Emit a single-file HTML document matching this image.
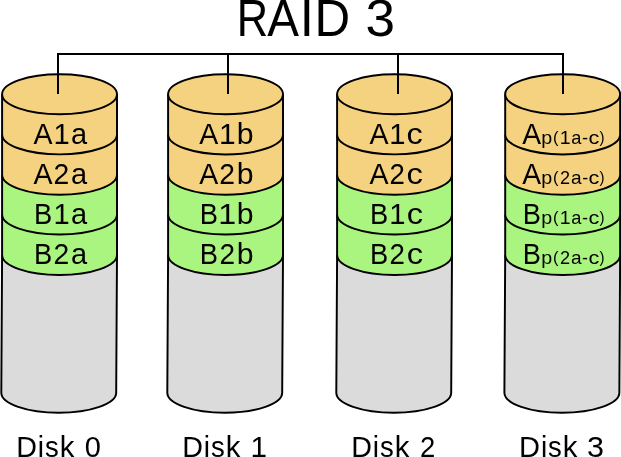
<!DOCTYPE html>
<html><head><meta charset="utf-8"><title>RAID 3</title>
<style>
html,body{margin:0;padding:0;background:#fff;}
body{width:621px;height:457px;overflow:hidden;}
svg{display:block;will-change:transform;}
text{font-family:"Liberation Sans",sans-serif;fill:#000;}
</style></head><body>
<svg width="621" height="457" viewBox="0 0 621 457">
<rect width="621" height="457" fill="#fff"/>
<g><text transform="matrix(0.8520 0 0 1.0000 236.65 35.60)" font-size="51.0">R</text><text transform="matrix(0.9327 0 0 1.0000 267.13 35.60)" font-size="51.0">A</text><text transform="matrix(0.9998 0 0 1.0000 299.66 35.60)" font-size="51.0">I</text><text transform="matrix(0.9667 0 0 1.0000 314.57 35.60)" font-size="51.0">D</text><text transform="matrix(1.0406 0 0 1.0000 365.58 35.60)" font-size="51.0">3</text></g>
<rect x="57" y="53" width="507" height="2" fill="#000"/>
<g><path d="M2.1,255.00 L1.30,392.75 A57.45,20.0 0 0 0 116.20,392.75 L117.0,255.00" fill="#dbdbdb" stroke="#000" stroke-width="1.95" stroke-linejoin="round"/><path d="M2.1,214.50 V255.00 A57.45,20.0 0 0 0 117.0,255.00 V214.50" fill="#aaf57f" stroke="#000" stroke-width="1.95"/><path d="M2.1,174.80 V214.50 A57.45,20.0 0 0 0 117.0,214.50 V174.80" fill="#aaf57f" stroke="#000" stroke-width="1.95"/><path d="M2.1,134.40 V174.80 A57.45,20.0 0 0 0 117.0,174.80 V134.40" fill="#f5d27f" stroke="#000" stroke-width="1.95"/><path d="M2.1,94.20 V134.40 A57.45,20.0 0 0 0 117.0,134.40 V94.20" fill="#f5d27f" stroke="#000" stroke-width="1.95"/><ellipse cx="59.55" cy="94.2" rx="57.45" ry="20.0" fill="#f5d27f" stroke="#000" stroke-width="1.95"/></g>
<g><path d="M168.1,255.00 L167.30,392.75 A57.45,20.0 0 0 0 282.20,392.75 L283.0,255.00" fill="#dbdbdb" stroke="#000" stroke-width="1.95" stroke-linejoin="round"/><path d="M168.1,214.50 V255.00 A57.45,20.0 0 0 0 283.0,255.00 V214.50" fill="#aaf57f" stroke="#000" stroke-width="1.95"/><path d="M168.1,174.80 V214.50 A57.45,20.0 0 0 0 283.0,214.50 V174.80" fill="#aaf57f" stroke="#000" stroke-width="1.95"/><path d="M168.1,134.40 V174.80 A57.45,20.0 0 0 0 283.0,174.80 V134.40" fill="#f5d27f" stroke="#000" stroke-width="1.95"/><path d="M168.1,94.20 V134.40 A57.45,20.0 0 0 0 283.0,134.40 V94.20" fill="#f5d27f" stroke="#000" stroke-width="1.95"/><ellipse cx="225.55" cy="94.2" rx="57.45" ry="20.0" fill="#f5d27f" stroke="#000" stroke-width="1.95"/></g>
<g><path d="M337.1,255.00 L336.30,392.75 A57.45,20.0 0 0 0 451.20,392.75 L452.0,255.00" fill="#dbdbdb" stroke="#000" stroke-width="1.95" stroke-linejoin="round"/><path d="M337.1,214.50 V255.00 A57.45,20.0 0 0 0 452.0,255.00 V214.50" fill="#aaf57f" stroke="#000" stroke-width="1.95"/><path d="M337.1,174.80 V214.50 A57.45,20.0 0 0 0 452.0,214.50 V174.80" fill="#aaf57f" stroke="#000" stroke-width="1.95"/><path d="M337.1,134.40 V174.80 A57.45,20.0 0 0 0 452.0,174.80 V134.40" fill="#f5d27f" stroke="#000" stroke-width="1.95"/><path d="M337.1,94.20 V134.40 A57.45,20.0 0 0 0 452.0,134.40 V94.20" fill="#f5d27f" stroke="#000" stroke-width="1.95"/><ellipse cx="394.55" cy="94.2" rx="57.45" ry="20.0" fill="#f5d27f" stroke="#000" stroke-width="1.95"/></g>
<g><path d="M505.2,255.00 L504.40,392.75 A57.47,20.0 0 0 0 619.35,392.75 L620.15,255.00" fill="#dbdbdb" stroke="#000" stroke-width="1.95" stroke-linejoin="round"/><path d="M505.2,214.50 V255.00 A57.47,20.0 0 0 0 620.15,255.00 V214.50" fill="#aaf57f" stroke="#000" stroke-width="1.95"/><path d="M505.2,174.80 V214.50 A57.47,20.0 0 0 0 620.15,214.50 V174.80" fill="#aaf57f" stroke="#000" stroke-width="1.95"/><path d="M505.2,134.40 V174.80 A57.47,20.0 0 0 0 620.15,174.80 V134.40" fill="#f5d27f" stroke="#000" stroke-width="1.95"/><path d="M505.2,94.20 V134.40 A57.47,20.0 0 0 0 620.15,134.40 V94.20" fill="#f5d27f" stroke="#000" stroke-width="1.95"/><ellipse cx="562.67" cy="94.2" rx="57.47" ry="20.0" fill="#f5d27f" stroke="#000" stroke-width="1.95"/></g>
<rect x="57" y="53" width="2" height="41" fill="#000"/>
<rect x="227" y="53" width="2" height="41" fill="#000"/>
<rect x="397" y="53" width="2" height="41" fill="#000"/>
<rect x="562" y="53" width="2" height="41" fill="#000"/>
<g><text transform="matrix(0.9717 0 0 1.0000 33.62 143.80)" font-size="29.325">A</text><text transform="matrix(0.9958 0 0 1.0000 53.38 143.80)" font-size="29.325">1</text><text transform="matrix(0.9897 0 0 0.9892 71.01 143.80)" font-size="29.325">a</text><text transform="matrix(0.9735 0 0 1.0000 33.61 183.80)" font-size="29.325">A</text><text transform="matrix(0.9655 0 0 1.0000 53.51 183.80)" font-size="29.325">2</text><text transform="matrix(0.9897 0 0 0.9892 71.01 183.80)" font-size="29.325">a</text><text transform="matrix(0.9315 0 0 1.0000 34.03 223.70)" font-size="29.325">B</text><text transform="matrix(0.9940 0 0 1.0000 53.43 223.70)" font-size="29.325">1</text><text transform="matrix(0.9897 0 0 0.9892 71.03 223.70)" font-size="29.325">a</text><text transform="matrix(0.9315 0 0 1.0000 34.03 263.80)" font-size="29.325">B</text><text transform="matrix(0.9655 0 0 1.0000 53.55 263.80)" font-size="29.325">2</text><text transform="matrix(0.9897 0 0 0.9892 71.03 263.80)" font-size="29.325">a</text><text transform="matrix(0.9771 0 0 1.0000 16.37 456.60)" font-size="29.325">D</text><text transform="matrix(0.9595 0 0 0.9919 37.78 456.60)" font-size="29.325">i</text><text transform="matrix(0.9396 0 0 0.9892 44.97 456.60)" font-size="29.325">s</text><text transform="matrix(0.9998 0 0 0.9919 59.65 456.60)" font-size="29.325">k</text><text transform="matrix(0.9907 0 0 1.0000 84.76 456.60)" font-size="29.325">0</text></g>
<g><text transform="matrix(0.9736 0 0 1.0000 199.34 143.80)" font-size="29.325">A</text><text transform="matrix(1.0203 0 0 1.0000 218.91 143.80)" font-size="29.325">1</text><text transform="matrix(1.0309 0 0 0.9920 236.64 143.80)" font-size="29.325">b</text><text transform="matrix(0.9736 0 0 1.0000 199.34 183.80)" font-size="29.325">A</text><text transform="matrix(0.9637 0 0 1.0000 219.22 183.80)" font-size="29.325">2</text><text transform="matrix(1.0309 0 0 0.9920 236.64 183.80)" font-size="29.325">b</text><text transform="matrix(0.9315 0 0 1.0000 199.73 223.70)" font-size="29.325">B</text><text transform="matrix(1.0993 0 0 1.0000 218.23 223.70)" font-size="29.325">1</text><text transform="matrix(1.0309 0 0 0.9920 236.66 223.70)" font-size="29.325">b</text><text transform="matrix(0.9315 0 0 1.0000 199.73 263.80)" font-size="29.325">B</text><text transform="matrix(0.9548 0 0 1.0000 219.62 263.80)" font-size="29.325">2</text><text transform="matrix(1.0309 0 0 0.9920 236.66 263.80)" font-size="29.325">b</text><text transform="matrix(0.9771 0 0 1.0000 182.37 456.60)" font-size="29.325">D</text><text transform="matrix(0.9595 0 0 0.9919 203.78 456.60)" font-size="29.325">i</text><text transform="matrix(0.9396 0 0 0.9892 210.97 456.60)" font-size="29.325">s</text><text transform="matrix(0.9998 0 0 0.9919 225.65 456.60)" font-size="29.325">k</text><text transform="matrix(1.0146 0 0 1.0000 250.50 456.60)" font-size="29.325">1</text></g>
<g><text transform="matrix(0.9747 0 0 1.0000 369.62 143.80)" font-size="29.325">A</text><text transform="matrix(0.9958 0 0 1.0000 389.26 143.80)" font-size="29.325">1</text><text transform="matrix(1.1076 0 0 0.9892 406.44 143.80)" font-size="29.325">c</text><text transform="matrix(0.9750 0 0 1.0000 369.62 183.80)" font-size="29.325">A</text><text transform="matrix(0.9418 0 0 1.0000 389.58 183.80)" font-size="29.325">2</text><text transform="matrix(1.1159 0 0 0.9892 406.54 183.80)" font-size="29.325">c</text><text transform="matrix(0.9315 0 0 1.0000 369.91 223.70)" font-size="29.325">B</text><text transform="matrix(0.9958 0 0 1.0000 389.30 223.70)" font-size="29.325">1</text><text transform="matrix(1.1111 0 0 0.9892 406.74 223.70)" font-size="29.325">c</text><text transform="matrix(0.9315 0 0 1.0000 369.91 263.80)" font-size="29.325">B</text><text transform="matrix(0.9436 0 0 1.0000 389.60 263.80)" font-size="29.325">2</text><text transform="matrix(1.1132 0 0 0.9892 406.87 263.80)" font-size="29.325">c</text><text transform="matrix(0.9771 0 0 1.0000 351.37 456.60)" font-size="29.325">D</text><text transform="matrix(0.9595 0 0 0.9919 372.78 456.60)" font-size="29.325">i</text><text transform="matrix(0.9396 0 0 0.9892 379.97 456.60)" font-size="29.325">s</text><text transform="matrix(0.9998 0 0 0.9919 394.65 456.60)" font-size="29.325">k</text><text transform="matrix(0.9366 0 0 1.0000 420.02 456.60)" font-size="29.325">2</text></g>
<g><text transform="matrix(0.9633 0 0 1.0000 522.28 143.80)" font-size="29.325">A</text><text transform="matrix(1.0314 0 0 0.9762 541.23 143.87)" font-size="19.125">p</text><text transform="matrix(0.8643 0 0 0.9051 552.96 142.80)" font-size="19.125">(</text><text transform="matrix(1.0216 0 0 1.0000 559.64 144.00)" font-size="19.125">1</text><text transform="matrix(0.9539 0 0 0.9892 571.17 144.00)" font-size="19.125">a</text><text transform="matrix(0.9547 0 0 1.0000 582.08 144.22)" font-size="19.125">-</text><text transform="matrix(1.1349 0 0 0.9892 588.52 144.00)" font-size="19.125">c</text><text transform="matrix(0.7905 0 0 0.9051 599.49 142.80)" font-size="19.125">)</text><text transform="matrix(0.9633 0 0 1.0000 522.28 183.80)" font-size="29.325">A</text><text transform="matrix(1.0314 0 0 0.9762 541.23 183.87)" font-size="19.125">p</text><text transform="matrix(0.8643 0 0 0.9051 552.96 182.80)" font-size="19.125">(</text><text transform="matrix(0.9466 0 0 1.0000 560.00 184.00)" font-size="19.125">2</text><text transform="matrix(0.9984 0 0 0.9892 571.09 184.00)" font-size="19.125">a</text><text transform="matrix(0.9338 0 0 1.0000 582.23 184.22)" font-size="19.125">-</text><text transform="matrix(1.1307 0 0 0.9892 588.46 184.00)" font-size="19.125">c</text><text transform="matrix(0.7905 0 0 0.9051 599.49 182.80)" font-size="19.125">)</text><text transform="matrix(0.9286 0 0 1.0000 522.66 223.70)" font-size="29.325">B</text><text transform="matrix(1.0315 0 0 0.9762 541.15 223.77)" font-size="19.125">p</text><text transform="matrix(0.8644 0 0 0.9051 552.96 222.70)" font-size="19.125">(</text><text transform="matrix(1.0177 0 0 1.0000 559.66 223.90)" font-size="19.125">1</text><text transform="matrix(0.9539 0 0 0.9892 571.17 223.90)" font-size="19.125">a</text><text transform="matrix(0.9478 0 0 1.0000 582.11 224.12)" font-size="19.125">-</text><text transform="matrix(1.1307 0 0 0.9892 588.38 223.90)" font-size="19.125">c</text><text transform="matrix(0.7905 0 0 0.9051 599.49 222.70)" font-size="19.125">)</text><text transform="matrix(0.9286 0 0 1.0000 522.66 263.80)" font-size="29.325">B</text><text transform="matrix(1.0315 0 0 0.9762 541.15 263.87)" font-size="19.125">p</text><text transform="matrix(0.8644 0 0 0.9051 552.96 262.80)" font-size="19.125">(</text><text transform="matrix(0.9483 0 0 1.0000 559.96 264.00)" font-size="19.125">2</text><text transform="matrix(0.9984 0 0 0.9892 571.09 264.00)" font-size="19.125">a</text><text transform="matrix(0.9268 0 0 1.0000 582.10 264.23)" font-size="19.125">-</text><text transform="matrix(1.1307 0 0 0.9892 588.38 264.00)" font-size="19.125">c</text><text transform="matrix(0.7905 0 0 0.9051 599.49 262.80)" font-size="19.125">)</text><text transform="matrix(0.9899 0 0 1.0000 519.06 456.60)" font-size="29.325">D</text><text transform="matrix(0.9593 0 0 0.9919 541.10 456.60)" font-size="29.325">i</text><text transform="matrix(0.9396 0 0 0.9892 548.09 456.60)" font-size="29.325">s</text><text transform="matrix(0.9997 0 0 0.9919 562.78 456.60)" font-size="29.325">k</text><text transform="matrix(1.0402 0 0 1.0000 586.97 456.60)" font-size="29.325">3</text></g>
</svg></body></html>
